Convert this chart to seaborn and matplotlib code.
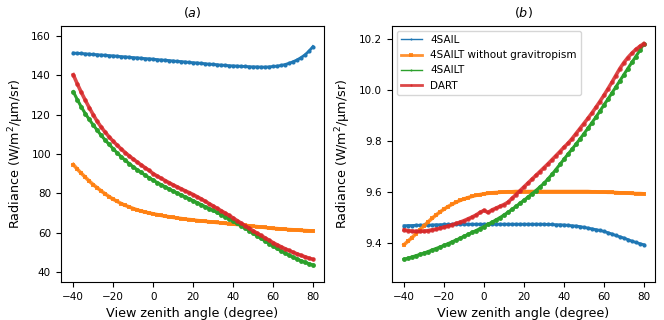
import matplotlib
matplotlib.use("Agg")
import matplotlib.pyplot as plt
import seaborn as sns

vza = list(range(-40, 81, 2))

# panel (a)
a_4sail = [151.2, 151.1, 151.0, 150.8, 150.7, 150.5, 150.4, 150.2, 150.1, 149.9,
           149.8, 149.6, 149.4, 149.3, 149.1, 148.9, 148.8, 148.6, 148.4, 148.3,
           148.1, 147.9, 147.7, 147.6, 147.4, 147.2, 147.0, 146.9, 146.7, 146.5,
           146.3, 146.2, 146.0, 145.8, 145.6, 145.5, 145.3, 145.1, 145.0, 144.8,
           144.7, 144.6, 144.5, 144.4, 144.3, 144.2, 144.2, 144.1, 144.1, 144.2,
           144.4, 144.6, 144.9, 145.4, 146.0, 146.8, 147.7, 148.9, 150.3, 152.2,
           154.5]
a_nograv = [94.6, 92.3, 90.2, 88.2, 86.2, 84.4, 82.8, 81.2, 79.7, 78.3,
            77.0, 75.9, 74.8, 73.9, 73.1, 72.3, 71.6, 71.0, 70.5, 70.0,
            69.6, 69.2, 68.8, 68.4, 68.1, 67.8, 67.5, 67.2, 66.9, 66.7,
            66.5, 66.2, 66.0, 65.8, 65.6, 65.4, 65.2, 65.0, 64.8, 64.6,
            64.4, 64.2, 64.0, 63.8, 63.5, 63.3, 63.1, 62.9, 62.7, 62.4,
            62.2, 62.1, 61.9, 61.8, 61.6, 61.5, 61.4, 61.2, 61.1, 61.0,
            60.9]
a_4sailt = [131.6, 127.6, 123.9, 120.5, 117.5, 114.7, 112.0, 109.4, 107.0, 104.8,
            102.6, 100.5, 98.6, 96.8, 95.1, 93.5, 92.0, 90.6, 89.2, 87.9,
            86.7, 85.5, 84.4, 83.3, 82.2, 81.2, 80.2, 79.2, 78.2, 77.3,
            76.3, 75.3, 74.3, 73.3, 72.3, 71.3, 70.3, 69.2, 68.1, 67.0,
            65.9, 64.7, 63.5, 62.3, 61.0, 59.7, 58.4, 57.1, 55.8, 54.5,
            53.2, 52.0, 50.8, 49.7, 48.6, 47.6, 46.7, 45.8, 45.0, 44.3,
            43.6]
a_dart = [140.2, 135.6, 131.3, 127.3, 123.5, 119.9, 116.5, 113.6, 111.0, 108.6,
          106.4, 104.4, 102.5, 100.7, 99.0, 97.4, 95.9, 94.4, 93.0, 91.6,
          90.0, 88.8, 87.6, 86.5, 85.4, 84.3, 83.3, 82.3, 81.3, 80.4,
          79.4, 78.3, 77.2, 76.0, 74.8, 73.6, 72.4, 71.2, 70.0, 68.8,
          67.5, 66.2, 64.9, 63.6, 62.3, 61.0, 59.8, 58.6, 57.4, 56.2,
          55.0, 53.9, 52.9, 51.9, 51.0, 50.1, 49.3, 48.5, 47.8, 47.1,
          46.5]

# panel (b)
b_4sail = [9.468, 9.469, 9.469, 9.470, 9.470, 9.471, 9.471, 9.471, 9.472, 9.472,
           9.473, 9.473, 9.473, 9.473, 9.474, 9.474, 9.474, 9.474, 9.474, 9.474,
           9.474, 9.474, 9.474, 9.474, 9.474, 9.474, 9.474, 9.474, 9.474, 9.474,
           9.474, 9.474, 9.474, 9.474, 9.474, 9.474, 9.473, 9.473, 9.472, 9.472,
           9.471, 9.470, 9.468, 9.467, 9.465, 9.462, 9.459, 9.456, 9.453, 9.450,
           9.446, 9.441, 9.436, 9.430, 9.425, 9.420, 9.414, 9.408, 9.403, 9.398,
           9.394]
b_nograv = [9.394, 9.408, 9.422, 9.437, 9.453, 9.468, 9.483, 9.497, 9.510, 9.522,
            9.533, 9.543, 9.552, 9.560, 9.567, 9.573, 9.578, 9.583, 9.587, 9.590,
            9.593, 9.595, 9.597, 9.598, 9.599, 9.600, 9.601, 9.601, 9.602, 9.602,
            9.602, 9.602, 9.602, 9.602, 9.602, 9.602, 9.602, 9.602, 9.602, 9.602,
            9.602, 9.602, 9.602, 9.602, 9.602, 9.602, 9.602, 9.601, 9.601, 9.600,
            9.600, 9.599, 9.599, 9.598, 9.597, 9.597, 9.596, 9.595, 9.594, 9.594,
            9.593]
b_4sailt = [9.337, 9.341, 9.346, 9.351, 9.356, 9.361, 9.367, 9.373, 9.379, 9.385,
            9.391, 9.398, 9.405, 9.412, 9.419, 9.427, 9.434, 9.442, 9.449, 9.457,
            9.465, 9.474, 9.482, 9.491, 9.500, 9.510, 9.521, 9.532, 9.544, 9.556,
            9.568, 9.580, 9.593, 9.606, 9.620, 9.634, 9.651, 9.669, 9.688, 9.708,
            9.728, 9.748, 9.767, 9.787, 9.807, 9.828, 9.849, 9.871, 9.893, 9.916,
            9.940, 9.963, 9.987, 10.011, 10.035, 10.059, 10.083, 10.107, 10.130, 10.154,
            10.180]
b_dart = [9.452, 9.449, 9.447, 9.446, 9.446, 9.447, 9.449, 9.452, 9.455, 9.459,
          9.463, 9.467, 9.472, 9.477, 9.482, 9.488, 9.495, 9.502, 9.510, 9.520,
          9.528, 9.520, 9.530, 9.537, 9.544, 9.551, 9.560, 9.575, 9.590, 9.605,
          9.620, 9.635, 9.650, 9.665, 9.680, 9.695, 9.710, 9.726, 9.742, 9.758,
          9.775, 9.790, 9.808, 9.828, 9.848, 9.868, 9.888, 9.909, 9.931, 9.954,
          9.978, 10.003, 10.029, 10.056, 10.083, 10.106, 10.126, 10.143, 10.158, 10.170,
          10.181]

labels = ["4SAIL", "4SAILT without gravitropism", "4SAILT", "DART"]
colors = ["#1f77b4", "#ff7f0e", "#2ca02c", "#d62728"]
styles = [dict(marker=".", markersize=6, linewidth=2.0, alpha=1.0),
          dict(marker="s", markersize=2.8, linewidth=2.6, alpha=0.85),
          dict(marker=".", markersize=7, linewidth=2.2, alpha=1.0),
          dict(marker=".", markersize=6.5, linewidth=2.6, alpha=0.85)]
legend_lw = [1.0, 2.0, 1.0, 2.0]

plt.rcParams["font.family"] = ["DejaVu Sans"]
fig, axes = plt.subplots(1, 2, figsize=(6.64, 3.2), dpi=100)
fig.subplots_adjust(left=0.0914, right=0.9864, top=0.9197, bottom=0.1188, wspace=0.2557)

panels = [(axes[0], [a_4sail, a_nograv, a_4sailt, a_dart], "$(a)$", (35.0, 165.1)),
          (axes[1], [b_4sail, b_nograv, b_4sailt, b_dart], "$(b)$", (9.248, 10.251))]

for ax, series, title, ylim in panels:
    for vals, lab, col, st in zip(series, labels, colors, styles):
        sns.lineplot(x=vza, y=vals, ax=ax, color=col, label=lab,
                     markeredgewidth=0, **st)
    ax.set_xlim(-46.3, 85.6)
    ax.set_ylim(*ylim)
    ax.set_xticks([-40, -20, 0, 20, 40, 60, 80])
    ax.set_xlabel("View zenith angle (degree)", fontsize=9.2)
    ax.set_ylabel("Radiance (W/m$^2$/μm/sr)", fontsize=9.2)
    ax.set_title(title, fontsize=9.2)
    ax.tick_params(labelsize=7.5)

axes[0].set_yticks([40, 60, 80, 100, 120, 140, 160])
axes[1].set_yticks([9.4, 9.6, 9.8, 10.0, 10.2])
axes[0].get_legend().remove()
leg = axes[1].legend(loc="upper left", fontsize=7.5)
for line, lw in zip(leg.get_lines(), legend_lw):
    line.set_markersize(3)
    line.set_linewidth(lw)

fig.savefig("out.png", dpi=100)
